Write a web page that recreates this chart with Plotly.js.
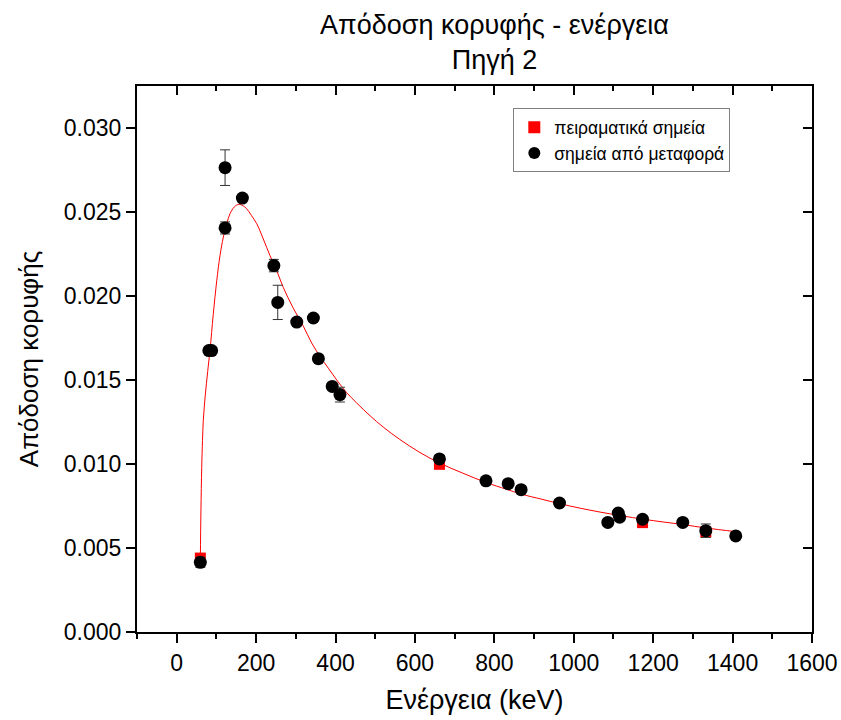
<!DOCTYPE html>
<html>
<head>
<meta charset="utf-8">
<script src="https://cdn.plot.ly/plotly-3.0.1.min.js"></script>
<style>html,body{margin:0;padding:0;background:#fff;}#chart{width:841px;height:720px;}</style>
</head>
<body>
<div id="chart"></div>
<script>
// Experimental points (red squares)
const expEnergy = [59.5, 661.7, 1173.2, 1332.5];
const expEff = [0.0044, 0.00998, 0.00651, 0.00595];

// Transferred points (black circles)
const trEnergy = [59.5, 81, 88, 121.8, 121.8, 165.4, 244.7, 254.5, 302.3, 344.2, 356.8, 391.7, 411.1, 661.7, 778.9, 834.8, 867.4, 964.1, 1085.8, 1112.1, 1115.5, 1173.2, 1274.5, 1332.5, 1408.0];
const trEff = [0.00415, 0.01675, 0.01675, 0.02405, 0.02764, 0.02583, 0.02181, 0.01962, 0.01845, 0.01869, 0.01627, 0.01462, 0.01413, 0.01030, 0.00900, 0.00883, 0.00847, 0.00768, 0.00652, 0.00708, 0.00683, 0.00671, 0.00652, 0.00603, 0.00572];
const trErr = [0.0003, 0.0002, 0.0002, 0.00036, 0.00106, 0.0002, 0.00037, 0.00102, 0.0002, 0.0002, 0.0002, 0.0002, 0.00044, 0.0002, 0.0002, 0.0002, 0.0002, 0.0002, 0.0002, 0.0002, 0.0002, 0.0002, 0.0002, 0.0004, 0.0002];

// Fit curve
const fitEnergy = [59.5, 61, 63, 65, 67, 72, 78, 84, 92, 100.8, 109, 117.4, 126, 134.3, 145, 155, 165, 176, 188, 201.6, 218, 235, 252, 268.6, 293, 319, 340, 361, 382, 403, 428, 453, 487, 520, 562, 610, 661.6, 720, 779, 830, 867.5, 920, 964, 1016, 1066, 1120, 1175.6, 1225, 1276, 1333.6, 1409];
const fitEff = [0.0043, 0.0072, 0.0098, 0.0114, 0.0126, 0.0141, 0.0155, 0.0168, 0.0189, 0.0209, 0.0224, 0.0235, 0.0243, 0.0249, 0.0253, 0.02545, 0.0254, 0.0252, 0.0248, 0.0243, 0.0234, 0.0224, 0.0215, 0.0205, 0.0193, 0.0182, 0.0172, 0.0164, 0.0157, 0.0150, 0.01425, 0.01364, 0.01287, 0.0122, 0.01146, 0.01072, 0.01006, 0.00946, 0.00890, 0.0085, 0.00821, 0.0079, 0.00764, 0.00737, 0.00714, 0.00692, 0.00671, 0.00655, 0.00639, 0.00619, 0.00597];

const legendNames = ['πειραματικά σημεία', 'σημεία από μεταφορά'];
const titleText = 'Απόδοση κορυφής - ενέργεια<br>Πηγή 2';
const xTitle = 'Ενέργεια (keV)';
const yTitle = 'Απόδοση κορυφής';

const FONT = 'Liberation Sans, Arial, sans-serif';

const traces = [
  {x: fitEnergy, y: fitEff, mode: 'lines', line: {color: '#ff0000', width: 1, shape: 'spline'}, showlegend: false, hoverinfo: 'skip'},
  {x: expEnergy, y: expEff, mode: 'markers', name: legendNames[0], marker: {symbol: 'square', size: 11, color: '#ff0000'}},
  {x: trEnergy, y: trEff, mode: 'markers', name: legendNames[1], marker: {symbol: 'circle', size: 13, color: '#000000'},
   error_y: {type: 'data', array: trErr, visible: true, color: '#333333', thickness: 1, width: 5}},
  {x: [], y: [], xaxis: 'x2', yaxis: 'y2', showlegend: false}
];

const layout = {
  width: 841, height: 720,
  margin: {l: 137, r: 29, t: 86, b: 88},
  paper_bgcolor: '#ffffff', plot_bgcolor: '#ffffff',
  font: {family: FONT, color: '#000'},
  title: {text: titleText, font: {family: FONT, size: 27, color: '#000'}, x: 0.588, xanchor: 'center', yref: 'container', y: 0.953, yanchor: 'top'},
  showlegend: true,
  legend: {x: 0.5575, y: 0.959, xanchor: 'left', yanchor: 'top', bgcolor: '#ffffff', bordercolor: '#808080', borderwidth: 1, font: {family: FONT, size: 17.5, color: '#000'}, tracegroupgap: 0, itemsizing: 'constant'},
  xaxis: {
    range: [-100, 1600], dtick: 200, tick0: 0, showgrid: false, zeroline: false,
    showline: true, linecolor: '#000', linewidth: 2, ticks: 'outside', ticklen: 9, tickwidth: 2, tickcolor: '#000',
    minor: {dtick: 100, ticks: 'outside', ticklen: 5, tickwidth: 2, tickcolor: '#000', showgrid: false},
    tickfont: {family: FONT, size: 23, color: '#000'},
    title: {text: xTitle, font: {family: FONT, size: 27, color: '#000'}, standoff: 16}
  },
  yaxis: {
    range: [0, 0.0325], dtick: 0.005, tick0: 0, tickformat: '.3f', showgrid: false, zeroline: false,
    showline: true, linecolor: '#000', linewidth: 2, ticks: 'outside', ticklen: 9, tickwidth: 2, tickcolor: '#000',
    tickfont: {family: FONT, size: 23, color: '#000'},
    title: {text: yTitle, font: {family: FONT, size: 26, color: '#000'}, standoff: 18}
  },
  xaxis2: {
    overlaying: 'x', side: 'top', range: [-100, 1600], dtick: 200, tick0: 0, showgrid: false, zeroline: false,
    showline: true, linecolor: '#000', linewidth: 2, ticks: 'inside', ticklen: 9, tickwidth: 2, tickcolor: '#000',
    minor: {dtick: 100, ticks: 'inside', ticklen: 5, tickwidth: 2, tickcolor: '#000', showgrid: false},
    showticklabels: false
  },
  yaxis2: {
    overlaying: 'y', side: 'right', range: [0, 0.0325], dtick: 0.005, tick0: 0, showgrid: false, zeroline: false,
    showline: true, linecolor: '#000', linewidth: 2, ticks: 'inside', ticklen: 9, tickwidth: 2, tickcolor: '#000',
    showticklabels: false
  }
};

Plotly.newPlot('chart', traces, layout, {displayModeBar: false, responsive: false});
</script>
</body>
</html>
